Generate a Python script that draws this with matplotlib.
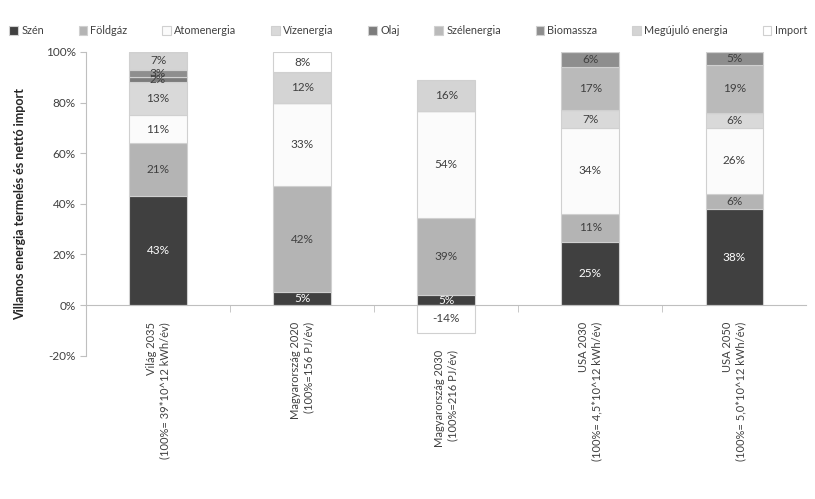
import numpy as np
import matplotlib
matplotlib.use('Agg')
from matplotlib import pyplot as plt
from matplotlib.transforms import ScaledTranslation

plt.rcParams['font.family'] = ['Lato', 'DejaVu Sans']

# kategóriák
categories = ['Világ 2035\n(100%= 39*10^12 kWh/év)',
              'Magyarország 2020\n(100%=156 PJ/év)',
              'Magyarország 2030\n(100%=216 PJ/év)',
              'USA 2030\n(100%= 4,5*10^12 kWh/év)',
              'USA 2050\n(100%= 5,0*10^12 kWh/év)']

# sorozatok (%-os arányok)
szen = [43, 5, 5, 25, 38]
foldgaz = [21, 42, 39, 11, 6]
atom = [11, 33, 54, 34, 26]
viz = [13, 0, 0, 7, 6]
olaj = [2, 0, 0, 0, 0]
szel = [0, 0, 0, 17, 19]
biomassza = [3, 0, 0, 6, 5]
megujulo = [7, 12, 16, 0, 0]
importv = [0, 8, -14, 0, 0]

series = [('Szén', szen, '#404040', 'white'),
          ('Földgáz', foldgaz, '#b4b4b4', '#404040'),
          ('Atomenergia', atom, '#fbfbfb', '#404040'),
          ('Vízenergia', viz, '#d9d9d9', '#404040'),
          ('Olaj', olaj, '#7c7c7c', '#404040'),
          ('Szélenergia', szel, '#bababa', '#404040'),
          ('Biomassza', biomassza, '#8e8e8e', '#404040'),
          ('Megújuló energia', megujulo, '#d4d4d4', '#404040'),
          ('Import', importv, '#ffffff', '#404040')]

fig = plt.figure(figsize=(8.15, 4.99), dpi=100)
ax = fig.add_axes([0.1055, 0.287, 0.884, 0.609])

x = np.arange(len(categories))
# Excel 100%-os halmozott: abszolút összegre normál
total = np.zeros(len(categories))
for name, vals, col, tcol in series:
    total += np.abs(np.array(vals, dtype=float))

pos = np.zeros(len(categories))
neg = np.zeros(len(categories))
for name, vals, col, tcol in series:
    v = np.array(vals, dtype=float)
    h = v / total * 100
    bottom = np.where(h >= 0, pos, neg)
    ax.bar(x, h, 0.4, bottom=bottom, color=col, edgecolor='#d0d0d0', linewidth=0.8, label=name, zorder=2)
    for i in range(len(x)):
        if vals[i] != 0:
            ax.text(x[i], bottom[i] + h[i] / 2, f'{vals[i]}%', ha='center', va='center',
                    fontsize=8.5, color=tcol, zorder=3)
    pos = np.where(h >= 0, pos + h, pos)
    neg = np.where(h < 0, neg + h, neg)

ax.set_xlim(-0.5, 4.5)
ax.set_ylim(-20, 100)
ax.set_yticks([-20, 0, 20, 40, 60, 80, 100])
ax.set_yticklabels([f'{t}%' for t in [-20, 0, 20, 40, 60, 80, 100]])
ax.tick_params(axis='y', labelsize=8.5, colors='#404040', length=4, color='#bfbfbf')
ax.spines['left'].set_color('#bfbfbf')
ax.spines['top'].set_visible(False)
ax.spines['right'].set_visible(False)
ax.spines['bottom'].set_position(('data', 0))
ax.spines['bottom'].set_color('#bfbfbf')

ax.set_xticks(x)
ax.set_xticklabels(categories, rotation=90, fontsize=8, color='#404040', va='top', ha='center', multialignment='right')
ax.set_xticks(np.arange(0.5, 4.5, 1), minor=True)
ax.tick_params(axis='x', which='major', length=0, pad=12)
ax.tick_params(axis='x', which='minor', length=5, color='#bfbfbf')
lab = ax.get_xticklabels()[2]
lab.set_transform(lab.get_transform() + ScaledTranslation(0, -20 / 72, fig.dpi_scale_trans))

ax.set_ylabel('Villamos energia termelés és nettó import', fontsize=9, fontweight='bold', color='#262626', labelpad=14)

ax.legend(loc='upper center', bbox_to_anchor=(0.447, 1.12), ncol=9, frameon=False, fontsize=7.8,
          handlelength=0.8, handleheight=0.8, handletextpad=0.3, columnspacing=3.2, labelcolor='#404040')

plt.savefig('out.png', dpi=100)
